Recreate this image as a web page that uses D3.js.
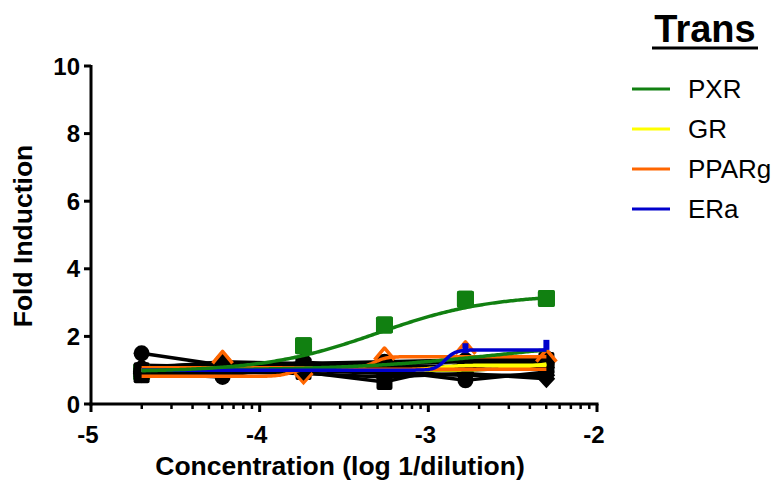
<!DOCTYPE html>
<html><head><meta charset="utf-8">
<script src="https://cdn.jsdelivr.net/npm/d3@7"></script>
<style>
body{margin:0;background:#fff;}
text{font-family:"Liberation Sans",Arial,sans-serif;}
</style></head>
<body><svg id="c" width="779" height="484"></svg>
<script>
// ---- data ----
const logConc = [-4.70, -4.22, -3.74, -3.26, -2.78, -2.30];
const xTicks = [-5, -4, -3, -2];
const yTicks = [0, 2, 4, 6, 8, 10];
const legendNames = ["PXR", "GR", "PPARg", "ERa"];
const legendColors = ["#118011", "#ffff00", "#ff6600", "#0000cc"];

// black compounds (lines + markers)
const blackSeries1 = [1.50, 1.15, 1.20, 1.25, 1.30, 1.35];
const blackSeries2 = [0.90, 0.80, 1.25, 1.00, 0.70, 0.95];
const blackSeries3 = [1.00, 1.00, 0.95, 0.65, 1.20, 1.30];
const blackSeries4 = [1.10, 1.20, 1.05, 1.10, 1.05, 1.40];
const blackSeries5 = [0.95, 0.95, 0.90, 0.80, 0.90, 0.75];
const blackSeries6 = [1.05, 1.25, 1.20, 1.20, 1.25, 1.20];
const blackSeries7 = [0.85, 1.10, 1.15, 0.95, 1.00, 1.10];
const blackSeries8 = [1.15, 1.10, 1.10, 1.15, 1.10, 1.25];
const blackSeries9 = [0.90, 0.90, 1.00, 0.90, 0.85, 0.85];
const blackShapes = ["circle", "circle", "square", "triangle", "diamond", "circle", "square", "triangle", "diamond"];

// colored data points
const pxrValues = [0.95, 1.10, 1.72, 2.34, 3.10, 3.12];
const ppargValues = [1.00, 1.35, 0.77, 1.45, 1.63, 1.40];
const eraValues = [1.00, 1.00, 1.00, 1.00, 1.65, 1.75];

// fitted curve parameters [bottom, top, logEC50, hill]
const pxrFit = [0.95, 3.25, -3.30, 1.3];
const pxrFit2 = [1.00, 1.90, -2.60, 1.0];
const grFit = [1.00, 1.45, -2.25, 3.0];
const grFit2 = [1.00, 1.15, -2.95, 6.0];
const ppargFitA = [0.82, 1.03, -3.82, 12];
const ppargFitB = [1.07, 1.40, -3.32, 12];
const eraFit = [1.00, 1.60, -2.90, 14];

// ---- drawing ----
const svg = d3.select("#c");
const x = d3.scaleLinear().domain([-5, -2]).range([91, 597]);
const y = d3.scaleLinear().domain([0, 10]).range([404, 66]);

const g = svg.append("g");

function fitPts(p) {
  const pts = [];
  const xs = d3.range(logConc[0], logConc[logConc.length - 1] + 0.0001, 0.01);
  xs.forEach(v => pts.push([v, p[0] + (p[1] - p[0]) / (1 + Math.pow(10, (p[2] - v) * p[3]))]));
  return pts;
}
const line = d3.line().x(d => x(d[0])).y(d => y(d[1]));

function marker(sel, shape, cx, cy, r, color) {
  if (shape === "circle") sel.append("circle").attr("cx", cx).attr("cy", cy).attr("r", r).attr("fill", color);
  else if (shape === "square") sel.append("rect").attr("x", cx - r).attr("y", cy - r).attr("width", 2 * r).attr("height", 2 * r).attr("rx", 2).attr("fill", color);
  else if (shape === "triangle") sel.append("path").attr("d", `M${cx},${cy - r * 1.1}L${cx + r * 1.1},${cy + r * 0.8}L${cx - r * 1.1},${cy + r * 0.8}Z`).attr("fill", color);
  else if (shape === "diamond") sel.append("path").attr("d", `M${cx},${cy - r * 1.2}L${cx + r * 1.1},${cy}L${cx},${cy + r * 1.2}L${cx - r * 1.1},${cy}Z`).attr("fill", color);
}

// black series lines
const blacks = [blackSeries1, blackSeries2, blackSeries3, blackSeries4, blackSeries5, blackSeries6, blackSeries7, blackSeries8, blackSeries9];
blacks.forEach((s, i) => {
  g.append("path").attr("d", line(logConc.map((c, j) => [c, s[j]])))
    .attr("fill", "none").attr("stroke", "#000").attr("stroke-width", 3.5);
});

// PXR squares, then black markers over them
logConc.forEach((c, j) => marker(g, "square", x(c), y(pxrValues[j]), 8.5, legendColors[0]));
blacks.forEach((s, i) => {
  logConc.forEach((c, j) => marker(g, blackShapes[i], x(c), y(s[j]), 8, "#000"));
});

// colored fits on top
function fitLine(p, color, w) {
  g.append("path").attr("d", line(fitPts(p))).attr("fill", "none")
    .attr("stroke", color).attr("stroke-width", w);
}
fitLine(grFit, legendColors[1], 3.5);
fitLine(grFit2, legendColors[1], 3.5);
fitLine(ppargFitA, legendColors[2], 3.5);
fitLine(ppargFitB, legendColors[2], 3.5);
logConc.forEach((c, j) => {
  const cx = x(c), cy = y(ppargValues[j]);
  if (j === 2) {
    g.append("path").attr("d", `M${cx - 9},${cy - 5}L${cx},${cy + 5}L${cx + 9},${cy - 5}`).attr("fill", "none").attr("stroke", legendColors[2]).attr("stroke-width", 3);
  } else if (j > 0) {
    g.append("path").attr("d", `M${cx - 10},${cy + 5}L${cx},${cy - 7}L${cx + 10},${cy + 5}`).attr("fill", "none").attr("stroke", legendColors[2]).attr("stroke-width", 3.5).attr("stroke-linejoin", "round");
  }
});
fitLine(pxrFit2, legendColors[0], 3.5);
fitLine(eraFit, legendColors[3], 3.5);
fitLine(pxrFit, legendColors[0], 3.5);
// redraw visible PXR squares above the band
logConc.forEach((c, j) => { if (pxrValues[j] > 1.5) marker(g, "square", x(c), y(pxrValues[j]), 8.5, legendColors[0]); });
[4, 5].forEach(j => {
  const cx = x(logConc[j]), cy = y(eraValues[j]);
  g.append("rect").attr("x", cx - 3).attr("y", cy - 5).attr("width", 6).attr("height", 10).attr("fill", legendColors[3]);
});

// axes
const ax = svg.append("g").attr("stroke", "#000").attr("stroke-width", 3);
ax.append("line").attr("x1", x(-5)).attr("x2", x(-5)).attr("y1", y(10) - 1).attr("y2", y(0) + 1.5);
ax.append("line").attr("x1", x(-5) - 1.5).attr("x2", x(-2) + 1.5).attr("y1", y(0)).attr("y2", y(0));
yTicks.forEach(t => ax.append("line").attr("x1", x(-5) - 7).attr("x2", x(-5)).attr("y1", y(t)).attr("y2", y(t)));
xTicks.forEach(t => ax.append("line").attr("x1", x(t)).attr("x2", x(t)).attr("y1", y(0)).attr("y2", y(0) + 8));
xTicks.slice(0, -1).forEach(t => d3.range(2, 10).forEach(k =>
  ax.append("line").attr("x1", x(t + Math.log10(k))).attr("x2", x(t + Math.log10(k)))
    .attr("y1", y(0)).attr("y2", y(0) + 5).attr("stroke-width", 2.5)));

svg.selectAll(".yl").data(yTicks).enter().append("text")
  .attr("x", x(-5) - 11).attr("y", d => y(d) + 8.5).attr("text-anchor", "end")
  .attr("font-size", 24).attr("font-weight", "bold").text(d => d);
svg.selectAll(".xl").data(xTicks).enter().append("text")
  .attr("x", d => x(d) - 3).attr("y", y(0) + 39).attr("text-anchor", "middle")
  .attr("font-size", 24).attr("font-weight", "bold").text(d => d);

svg.append("text").attr("transform", "translate(32,236) rotate(-90)").attr("text-anchor", "middle")
  .attr("font-size", 26.5).attr("font-weight", "bold").text("Fold Induction");
svg.append("text").attr("x", 340).attr("y", 475).attr("text-anchor", "middle")
  .attr("font-size", 26.5).attr("font-weight", "bold").text("Concentration (log 1/dilution)");

// title
svg.append("text").attr("x", 705).attr("y", 42).attr("text-anchor", "middle")
  .attr("font-size", 38).attr("font-weight", "bold").text("Trans");
svg.append("line").attr("x1", 652).attr("x2", 758).attr("y1", 48).attr("y2", 48).attr("stroke", "#000").attr("stroke-width", 3);

// legend
legendNames.forEach((n, i) => {
  const yy = 89 + i * 40;
  svg.append("line").attr("x1", 632).attr("x2", 670).attr("y1", yy).attr("y2", yy)
    .attr("stroke", legendColors[i]).attr("stroke-width", 3);
  svg.append("text").attr("x", 688).attr("y", yy + 9).attr("font-size", 26).text(n);
});
</script></body></html>
